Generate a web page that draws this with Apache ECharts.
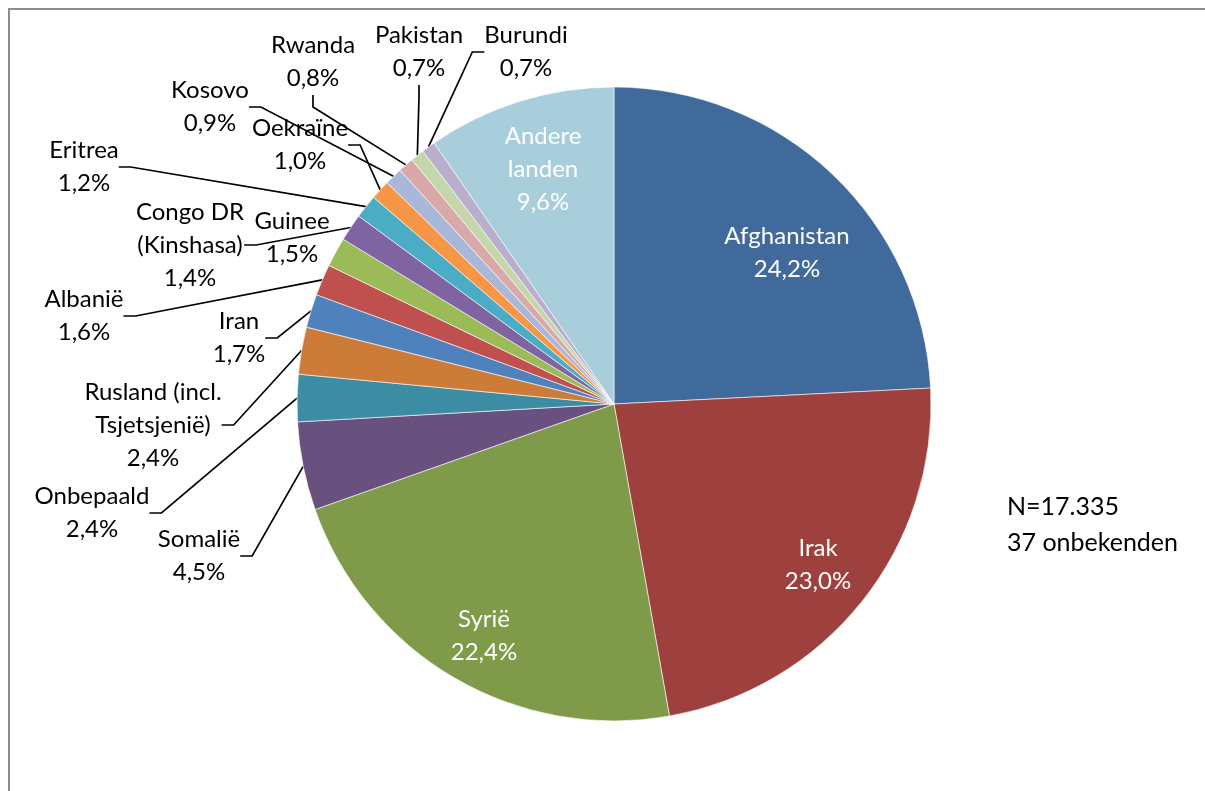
<!DOCTYPE html>
<html>
<head>
<meta charset="utf-8">
<script src="https://cdn.jsdelivr.net/npm/echarts@6/dist/echarts.min.js"></script>
<style>
html,body{margin:0;padding:0;background:#fff;}
#g_chart{width:1205px;height:791px;}
</style>
</head>
<body>
<div id="g_chart"></div>
<script>
// landen en aandeel (%)
var landen = ['Afghanistan', 'Irak', 'Syrië', 'Somalië', 'Onbepaald', 'Rusland (incl.\nTsjetsjenië)', 'Iran', 'Albanië', 'Guinee', 'Congo DR\n(Kinshasa)', 'Eritrea', 'Oekraïne', 'Kosovo', 'Rwanda', 'Pakistan', 'Burundi', 'Andere\nlanden'];
var aandeel = [24.2, 23.0, 22.4, 4.5, 2.4, 2.4, 1.7, 1.6, 1.5, 1.4, 1.2, 1.0, 0.9, 0.8, 0.7, 0.7, 9.6];
var notitie = ['N=17.335', '37 onbekenden'];

var kleuren = ['#416a9c', '#9e413e', '#7f9a48', '#69517f', '#3c8da3', '#cc7b38', '#4f81bd', '#c0504d', '#9bbb59', '#8064a2', '#4bacc6', '#f79646', '#a9b8d8', '#d9a9a8', '#c6d6ac', '#b9aecb', '#a8cedc'];
// label middenpunten
var labelPos = [[787, 253], [818, 565], [484, 636], [199, 556], [92, 513], [153, 425], [239, 338], [84, 316], [292, 238], [190, 245], [84, 167], [300, 145], [210, 107], [313, 62], [419, 52], [526, 52], [543, 169]];
var binnen = [0, 1, 2, 16];

var pie_data = [];
for (let i = 0; i < landen.length; i++) {
	var item = {
		name: landen[i],
		value: aandeel[i],
		itemStyle: { color: kleuren[i] }
	};
	if (binnen.indexOf(i) >= 0) {
		item.label = { position: 'inside', color: '#fff' };
		item.labelLine = { show: false };
	}
	if (landen[i] == 'Guinee') {
		item.labelLine = { show: false };
	}
	pie_data.push(item);
}

var option = {
	animation: false,
	graphic: [{
		type: 'rect',
		shape: { x: 9, y: 9, width: 1400, height: 1000 },
		style: { fill: null, stroke: '#8c8c8c', lineWidth: 2 },
		silent: true
	}, {
		type: 'text',
		left: 1007,
		top: 489,
		style: {
			text: notitie.join('\n'),
			fill: '#000',
			font: '25px Lato',
			lineHeight: 36
		}
	}],
	series: [{
		type: 'pie',
		center: [614, 404],
		radius: 317,
		startAngle: 90,
		clockwise: true,
		avoidLabelOverlap: false,
		emphasis: { disabled: true },
		itemStyle: { borderColor: '#fff', borderWidth: 0.6 },
		label: {
			show: true,
			position: 'outside',
			color: '#000',
			fontFamily: 'Lato',
			fontSize: 24,
			lineHeight: 33,
			formatter: function (p) {
				return p.name + '\n' + p.value.toFixed(1).replace('.', ',') + '%';
			}
		},
		labelLine: {
			show: true,
			length: 10,
			length2: 12,
			lineStyle: { color: '#000', width: 1.7 }
		},
		labelLayout: function (p) {
			var q = labelPos[p.dataIndex];
			return { x: q[0], y: q[1], align: 'center', verticalAlign: 'middle' };
		},
		data: pie_data
	}]
};
var myChart = echarts.init(document.getElementById('g_chart'));
myChart.setOption(option);
</script>
</body>
</html>
